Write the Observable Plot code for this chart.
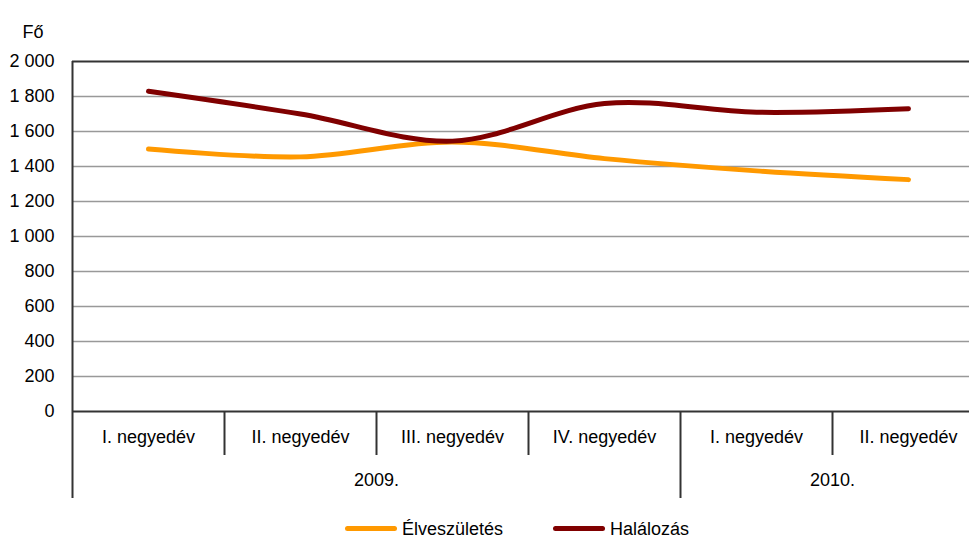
<!DOCTYPE html>
<html>
<head>
<meta charset="utf-8">
<script src="https://cdn.jsdelivr.net/npm/d3@7"></script>
<script src="https://cdn.jsdelivr.net/npm/@observablehq/plot@0.6"></script>
<style>
  html, body { margin: 0; padding: 0; background: #fff; overflow: hidden; color: #000; }
  body { font-family: "Liberation Sans", Arial, sans-serif; width: 969px; height: 539px; }
  #chart svg { overflow: hidden; display: block; }
  #legend { position: relative; height: 22px; font-size: 18px; line-height: 20px; }
  #legend .item { position: absolute; top: 2px; height: 20px; white-space: nowrap; }
  #legend .sw { display: inline-block; width: 52px; height: 5px; border-radius: 3px; vertical-align: 4px; margin-right: 5px; }
</style>
</head>
<body>
<div id="chart"></div>
<div id="legend"></div>
<script>
// ---- data ----
const quarters = ["I. negyedév", "II. negyedév", "III. negyedév", "IV. negyedév", "I. negyedév", "II. negyedév"];
const years = ["2009.", "2009.", "2009.", "2009.", "2010.", "2010."];
const seriesNames = ["Élveszületés", "Halálozás"];
const births = [1500, 1455, 1540, 1445, 1375, 1325];
const deaths = [1830, 1700, 1545, 1760, 1710, 1730];
const yTicks = [0, 200, 400, 600, 800, 1000, 1200, 1400, 1600, 1800, 2000];
const seriesColors = ["#FF9900", "#800000"];
const unitLabel = "Fő";

// ---- derived tables ----
const rows = quarters.map((q, i) => ({i, q, year: years[i]}));
const long = [
  ...births.map((v, i) => ({i, value: v, series: seriesNames[0]})),
  ...deaths.map((v, i) => ({i, value: v, series: seriesNames[1]}))
];
const bounds = rows.map((r, i) => ({
  x: i - 0.5,
  kind: i === 0 ? "axis" : (years[i] !== years[i - 1] ? "year" : "quarter")
}));
const yearGroups = d3.groups(rows, d => d.year).map(([year, rs]) => ({year, x: d3.mean(rs, r => r.i)}));
const fmt = d => d3.format(",")(d).replace(/,/g, " ");

const dark = "#333333";
const grid = "#999999";

const chart = Plot.plot({
  width: 969,
  height: 517,
  marginLeft: 72,
  marginRight: 0,
  marginTop: 61,
  marginBottom: 106,
  style: {fontFamily: "'Liberation Sans', Arial, sans-serif", fontSize: "18px", background: "#fff", color: "#000"},
  x: {type: "linear", domain: [-0.5, 5.5], range: [72, 984], axis: null},
  y: {domain: [0, 2000], axis: null},
  color: {domain: seriesNames, range: seriesColors},
  marks: [
    Plot.ruleY(yTicks.filter(d => d > 0 && d < 2000), {stroke: grid, strokeWidth: 1.7}),
    Plot.ruleY([yTicks[0], yTicks[yTicks.length - 1]], {stroke: dark, strokeWidth: 2}),
    Plot.axisY(yTicks, {tickSize: 0, tickPadding: 18, tickFormat: fmt, label: null, fontSize: 18}),
    Plot.ruleX(bounds.filter(d => d.kind === "axis"), {x: "x", stroke: dark, strokeWidth: 2, insetBottom: -87}),
    Plot.ruleX(bounds.filter(d => d.kind === "year"), {x: "x", stroke: dark, strokeWidth: 2, insetTop: 350, insetBottom: -87}),
    Plot.ruleX(bounds.filter(d => d.kind === "quarter"), {x: "x", stroke: dark, strokeWidth: 2, insetTop: 350, insetBottom: -44}),
    Plot.text(rows, {x: "i", text: "q", frameAnchor: "bottom", dy: 31, fontSize: 18}),
    Plot.text(yearGroups, {x: "x", text: "year", frameAnchor: "bottom", dy: 74, fontSize: 18}),
    Plot.text([unitLabel], {frameAnchor: "top-left", textAnchor: "start", dx: -50, dy: -36, fontSize: 18}),
    Plot.line(long, {x: "i", y: "value", z: "series", stroke: "series", curve: "cardinal", tension: 0,
      strokeWidth: 5, strokeLinecap: "round", strokeLinejoin: "round"})
  ]
});
document.getElementById("chart").appendChild(chart);

const legend = document.getElementById("legend");
const legendLeft = [345, 553];
seriesNames.forEach((name, k) => {
  const item = document.createElement("span");
  item.className = "item";
  item.style.left = legendLeft[k] + "px";
  const sw = document.createElement("span");
  sw.className = "sw";
  sw.style.background = seriesColors[k];
  item.appendChild(sw);
  item.appendChild(document.createTextNode(name));
  legend.appendChild(item);
});
</script>
</body>
</html>
